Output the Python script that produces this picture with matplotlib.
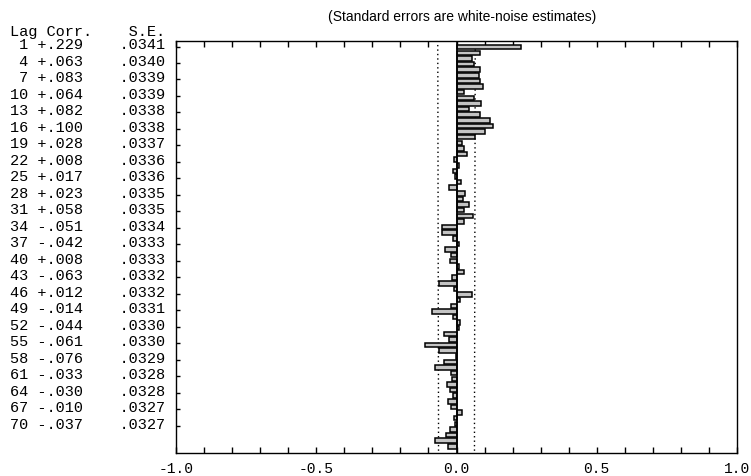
import matplotlib
matplotlib.use("Agg")
import matplotlib.pyplot as plt
import numpy as np

# ---- data ----
lags = list(range(1, 73))
corr = [0.229, 0.085, 0.056, 0.063, 0.083, 0.079, 0.083, 0.094, 0.026, 0.064,
        0.087, 0.043, 0.082, 0.121, 0.130, 0.100, 0.065, 0.021, 0.028, 0.036,
        -0.009, 0.008, -0.013, -0.007, 0.017, -0.026, 0.030, 0.023, 0.044, 0.027,
        0.058, 0.027, -0.050, -0.051, -0.012, 0.008, -0.042, -0.020, -0.024, 0.008,
        0.026, -0.015, -0.063, -0.009, 0.056, 0.012, -0.018, -0.087, -0.014, 0.012,
        0.009, -0.044, -0.026, -0.113, -0.061, -0.001, -0.044, -0.076, -0.018, -0.016,
        -0.033, -0.024, -0.011, -0.030, -0.018, 0.018, -0.010, -0.007, -0.024, -0.037,
        -0.075, -0.030]
label_lags = [1, 4, 7, 10, 13, 16, 19, 22, 25, 28, 31, 34, 37, 40, 43, 46,
              49, 52, 55, 58, 61, 64, 67, 70]
se = [0.0341, 0.0340, 0.0339, 0.0339, 0.0338, 0.0338, 0.0337, 0.0336,
      0.0336, 0.0335, 0.0335, 0.0334, 0.0333, 0.0333, 0.0332, 0.0332,
      0.0331, 0.0330, 0.0330, 0.0329, 0.0328, 0.0328, 0.0327, 0.0327]
xticks = [-1.0, -0.5, 0.0, 0.5, 1.0]
title = "(Standard errors are white-noise estimates)"

W, H = 751, 477
fig = plt.figure(figsize=(W / 100, H / 100), dpi=100)
L, R, T, B = 176, 737, 41.5, 454
ax = fig.add_axes([L / W, 1 - B / H, (R - L) / W, (B - T) / H])

ymin, ymax = -0.2, 73.2
ax.barh(lags, corr, height=0.8, color="#c4c4c4", edgecolor="black",
        linewidth=1.1, zorder=3)
ax.axvline(0, color="black", lw=1.2, zorder=4)

# confidence limits (dotted)
lim = [1.96 * s for s in se]
ly = [ymin] + label_lags + [ymax]
lx = [lim[0]] + lim + [lim[-1]]
for sgn in (1, -1):
    ax.plot([sgn * v for v in lx], ly, color="black", lw=1.0,
            linestyle=(0, (1, 2.2)), zorder=2)

ax.set_xlim(-1, 1)
ax.set_ylim(ymax, ymin)

mono = ["Liberation Mono", "DejaVu Sans Mono"]
tick_pos = np.round(np.arange(-1.0, 1.01, 0.1), 2)
def tlab(v):
    if any(abs(v - t) < 1e-6 for t in xticks):
        return f"{abs(v):.1f}" if abs(v) < 1e-9 else f"{v:.1f}"
    return ""
ax.set_xticks(tick_pos)
ax.set_xticklabels([tlab(v) for v in tick_pos], family=mono, fontsize=10.5)
ax.tick_params(axis="x", direction="in", top=True, length=4, width=1, pad=6)

# row labels
row_px = [45.5 + i * 16.48 for i in range(len(label_lags))]
to_data = lambda px: ymin + (px - T) / (B - T) * (ymax - ymin)
ax.set_yticks([to_data(p + 2) for p in row_px])
ax.set_yticklabels([])
ax.tick_params(axis="y", direction="in", length=3, width=1)

for spine in ax.spines.values():
    spine.set_linewidth(1.0)

def fmtc(v):
    s = f"{abs(v):.3f}"[1:]
    return ("+" if v >= 0 else "-") + s

x0 = 10 / W
fig.text(x0, 1 - 32 / H, "Lag Corr.    S.E.", family=mono,
         fontsize=11, ha="left", va="center")
for lag, s, py in zip(label_lags, se, row_px):
    txt = f"{lag:2d} {fmtc(corr[lag - 1])}    {f'{s:.4f}'[1:]}"
    fig.text(x0, 1 - py / H, txt, family=mono, fontsize=11,
             ha="left", va="center")

fig.text(462 / W, 1 - 17 / H, title, family=["Liberation Sans", "DejaVu Sans"],
         fontsize=10, ha="center", va="center")

fig.savefig("out.png", dpi=100)
